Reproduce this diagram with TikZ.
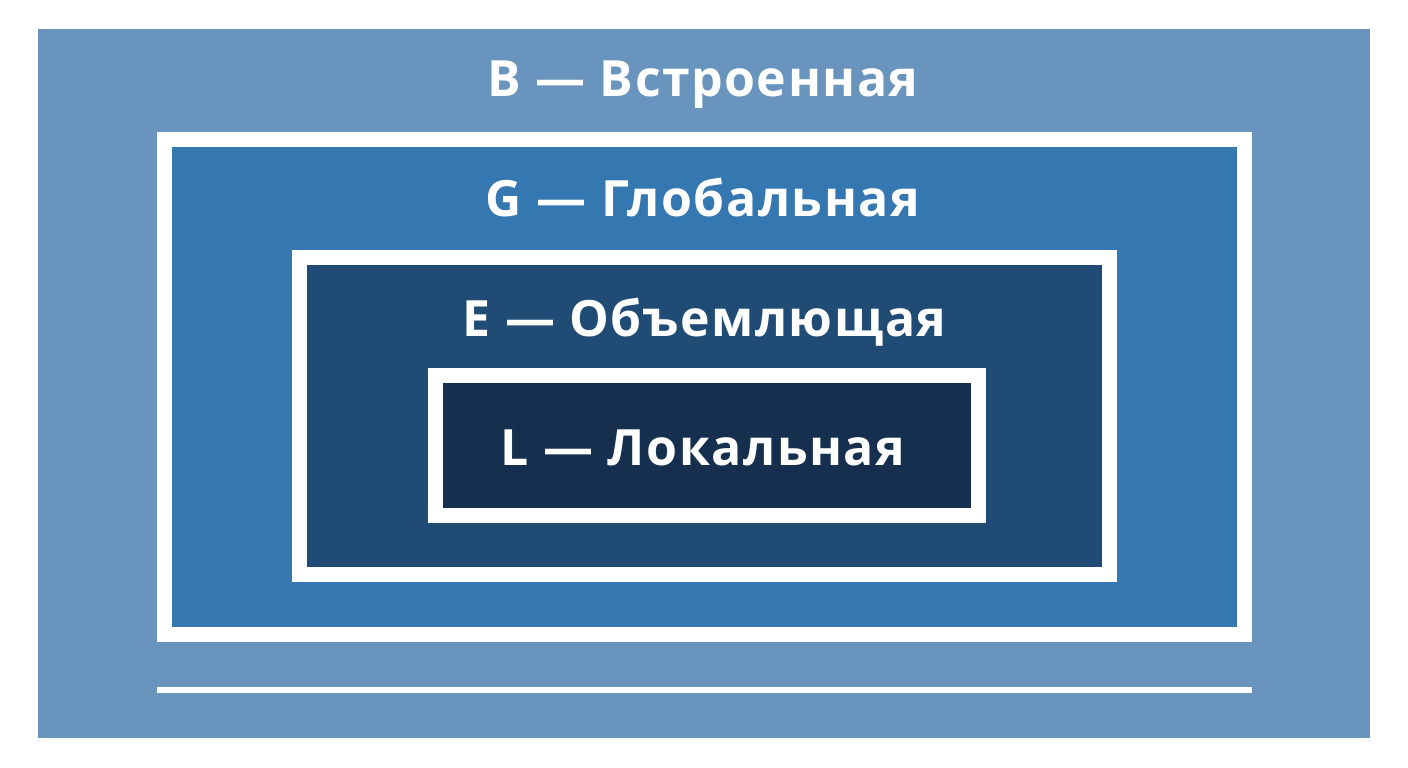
\documentclass[tikz,border=0pt]{standalone}
\usepackage{fontspec}
\setmainfont{Open Sans}[LetterSpace=3]
\usepackage{tikz}
\usetikzlibrary{positioning}

\definecolor{scopeB}{HTML}{6894BD}
\definecolor{scopeG}{HTML}{3577B1}
\definecolor{scopeE}{HTML}{1F4B74}
\definecolor{scopeL}{HTML}{172F4E}

\begin{document}
\begin{tikzpicture}[x=1pt,y=-1pt]

  \tikzset{
    frame/.style={draw=white,line width=15pt,inner sep=0pt,outer sep=0pt},
    lbl/.style={text=white,font=\bfseries\fontsize{50}{52}\selectfont,anchor=base},
  }

   \useasboundingbox (0,0) rectangle (1408,768);

   \node[fill=scopeB,minimum width=1332pt,minimum height=708.5pt,inner sep=0pt] (builtin) at (704,383.75) {};
   \node[frame,fill=scopeG,minimum width=1080pt,minimum height=495pt] (global) at (704.5,386.5) {};
   \node[frame,fill=scopeE,minimum width=810pt,minimum height=317pt] (enclosing) at (704.5,416) {};
   \node[frame,fill=scopeL,minimum width=543pt,minimum height=140pt] (local) at (707,445.5) {};

   \node[lbl] (tb) at (703,96) {B — Встроенная};
   \node[lbl] (tg) at (703,216) {G — Глобальная};
   \node[lbl] (te) at (704.5,336) {E — Объемлющая};
   \node[lbl] (tl) at (703,465) {L — Локальная};

   % line under the global box
   \coordinate (lineA) at (157,690);
   \coordinate (lineB) at (1252,690);
   \draw[white,line width=6pt] (lineA) -- (lineB);

\end{tikzpicture}
\end{document}
